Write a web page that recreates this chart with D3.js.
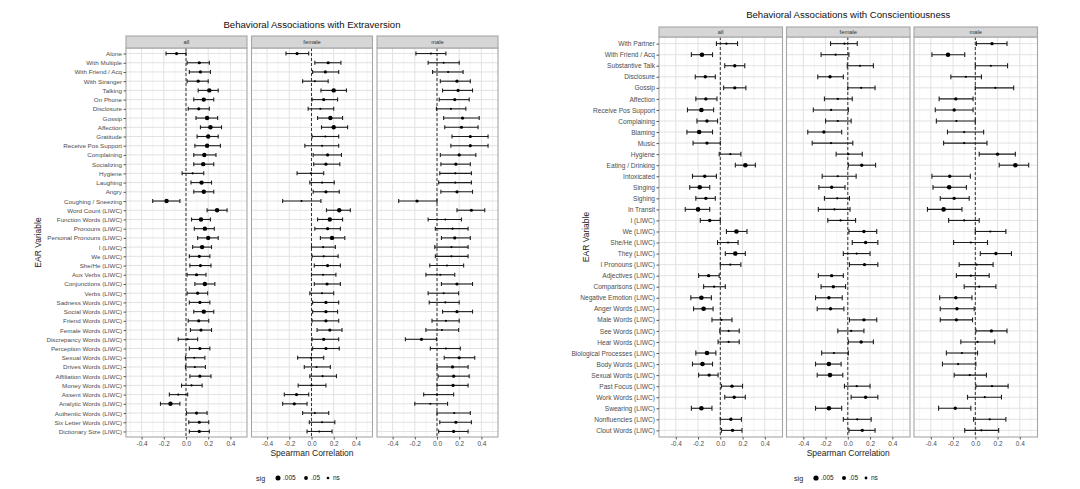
<!DOCTYPE html>
<html>
<head>
<meta charset="utf-8">
<script src="https://cdnjs.cloudflare.com/ajax/libs/d3/7.8.5/d3.min.js"></script>
<style>
body { margin: 0; background: #fff; }
svg { display: block; font-family: "Liberation Sans", Arial, sans-serif; }
</style>
</head>
<body>
<svg id="chart" width="1080" height="489"></svg>
<script>
// facets, ticks and significance levels
const facets = ["all", "female", "male"];
const xTicks = [-0.4, -0.2, 0.0, 0.2, 0.4];
const xMinor = [-0.5, -0.3, -0.1, 0.1, 0.3, 0.5];
const sigLevels = [".005", ".05", "ns"];
const A = ".005", B = ".05", N = "ns";

// Extraversion
const extVars = ["Alone", "With Multiple", "With Friend / Acq", "With Stranger", "Talking", "On Phone",
  "Disclosure", "Gossip", "Affection", "Gratitude", "Receive Pos Support", "Complaining", "Socializing",
  "Hygiene", "Laughing", "Angry", "Coughing / Sneezing", "Word Count (LIWC)", "Function Words (LIWC)",
  "Pronouns (LIWC)", "Personal Pronouns (LIWC)", "I (LIWC)", "We (LIWC)", "She/He (LIWC)", "Aux Verbs (LIWC)",
  "Conjunctions (LIWC)", "Verbs (LIWC)", "Sadness Words (LIWC)", "Social Words (LIWC)", "Friend Words (LIWC)",
  "Female Words (LIWC)", "Discrepancy Words (LIWC)", "Perception Words (LIWC)", "Sexual Words (LIWC)",
  "Drives Words (LIWC)", "Affiliation Words (LIWC)", "Money Words (LIWC)", "Assent Words (LIWC)",
  "Analytic Words (LIWC)", "Authentic Words (LIWC)", "Six Letter Words (LIWC)", "Dictionary Size (LIWC)"];

// [estimate, lower, upper, sig]
const extAll = [
  [-0.085, -0.18, 0.0, B], [0.12, 0.01, 0.21, B], [0.13, 0.03, 0.22, B], [0.11, 0.01, 0.20, B],
  [0.21, 0.11, 0.29, A], [0.16, 0.07, 0.25, A], [0.115, 0.02, 0.21, B], [0.19, 0.09, 0.285, A],
  [0.22, 0.13, 0.32, A], [0.20, 0.10, 0.29, A], [0.19, 0.08, 0.31, A], [0.165, 0.07, 0.27, A],
  [0.155, 0.07, 0.25, A], [0.06, -0.035, 0.16, N], [0.14, 0.045, 0.23, A], [0.16, 0.07, 0.25, A],
  [-0.175, -0.30, -0.055, A], [0.28, 0.19, 0.37, A], [0.135, 0.05, 0.22, A], [0.17, 0.075, 0.255, A],
  [0.20, 0.105, 0.29, A], [0.145, 0.06, 0.23, A], [0.12, 0.03, 0.215, B], [0.13, 0.035, 0.225, B],
  [0.095, 0.01, 0.18, B], [0.17, 0.08, 0.26, A], [0.105, 0.01, 0.195, B], [0.125, 0.03, 0.215, B],
  [0.16, 0.07, 0.25, A], [0.115, 0.02, 0.205, B], [0.135, 0.04, 0.23, B], [0.015, -0.07, 0.105, N],
  [0.125, 0.03, 0.215, B], [0.075, -0.005, 0.17, N], [0.08, -0.005, 0.175, N], [0.125, 0.035, 0.225, B],
  [0.05, -0.04, 0.145, N], [-0.07, -0.15, 0.015, N], [-0.14, -0.23, -0.055, A], [0.095, 0.005, 0.19, B],
  [0.12, 0.025, 0.205, B], [0.12, 0.03, 0.21, B]];
const extFemale = [
  [-0.13, -0.23, -0.025, B], [0.15, 0.03, 0.265, B], [0.125, 0.01, 0.245, B], [0.03, -0.08, 0.15, N],
  [0.20, 0.085, 0.315, A], [0.11, 0.005, 0.235, B], [0.08, -0.03, 0.20, N], [0.17, 0.055, 0.28, A],
  [0.20, 0.09, 0.325, A], [0.125, 0.005, 0.245, N], [0.095, -0.06, 0.245, N], [0.145, 0.015, 0.27, B],
  [0.13, 0.02, 0.255, B], [-0.005, -0.13, 0.11, N], [0.095, -0.015, 0.205, N], [0.13, 0.015, 0.25, B],
  [-0.09, -0.26, 0.085, N], [0.25, 0.135, 0.35, A], [0.165, 0.055, 0.28, A], [0.145, 0.03, 0.26, B],
  [0.185, 0.08, 0.30, A], [0.105, 0.0, 0.215, N], [0.11, 0.005, 0.24, N], [0.145, 0.025, 0.26, B],
  [0.105, 0.0, 0.22, N], [0.14, 0.025, 0.26, B], [0.095, -0.015, 0.20, N], [0.13, 0.01, 0.245, B],
  [0.13, 0.01, 0.235, B], [0.13, 0.005, 0.245, B], [0.165, 0.05, 0.275, B], [0.11, 0.005, 0.245, B],
  [0.13, 0.01, 0.25, B], [-0.005, -0.125, 0.11, N], [0.045, -0.065, 0.17, N], [0.10, -0.015, 0.225, N],
  [0.0, -0.12, 0.13, N], [-0.135, -0.245, -0.025, B], [-0.155, -0.26, -0.04, B], [0.03, -0.08, 0.155, N],
  [0.095, -0.02, 0.21, N], [0.07, -0.04, 0.185, N]];
const extMale = [
  [-0.055, -0.19, 0.08, N], [0.06, -0.08, 0.20, N], [0.10, -0.04, 0.235, N], [0.18, 0.03, 0.30, B],
  [0.19, 0.05, 0.32, B], [0.16, 0.02, 0.29, B], [0.125, -0.005, 0.26, N], [0.23, 0.06, 0.38, B],
  [0.22, 0.07, 0.37, B], [0.30, 0.135, 0.46, B], [0.30, 0.125, 0.46, B], [0.20, 0.03, 0.35, B],
  [0.17, 0.035, 0.30, B], [0.165, 0.025, 0.31, N], [0.165, 0.015, 0.31, N], [0.18, 0.035, 0.32, B],
  [-0.18, -0.345, 0.0, B], [0.31, 0.18, 0.43, B], [0.075, -0.08, 0.22, N], [0.14, -0.015, 0.28, N],
  [0.16, 0.04, 0.30, B], [0.13, -0.02, 0.28, N], [0.13, -0.015, 0.28, N], [0.09, -0.065, 0.24, N],
  [0.03, -0.10, 0.16, N], [0.18, 0.04, 0.32, B], [0.06, -0.08, 0.195, N], [0.075, -0.07, 0.20, N],
  [0.18, 0.05, 0.32, B], [0.08, -0.045, 0.20, N], [0.045, -0.10, 0.195, N], [-0.14, -0.285, -0.005, B],
  [0.08, -0.06, 0.21, N], [0.20, 0.065, 0.34, B], [0.14, 0.0, 0.28, B], [0.15, 0.01, 0.29, B],
  [0.145, 0.0, 0.28, B], [0.0, -0.12, 0.15, N], [-0.06, -0.20, 0.095, N], [0.155, 0.0, 0.30, N],
  [0.17, 0.025, 0.31, B], [0.15, 0.015, 0.28, B]];

// Conscientiousness
const conVars = ["With Partner", "With Friend / Acq", "Substantive Talk", "Disclosure", "Gossip", "Affection",
  "Receive Pos Support", "Complaining", "Blaming", "Music", "Hygiene", "Eating / Drinking", "Intoxicated",
  "Singing", "Sighing", "In Transit", "I (LIWC)", "We (LIWC)", "She/He (LIWC)", "They (LIWC)",
  "I Pronouns (LIWC)", "Adjectives (LIWC)", "Comparisons (LIWC)", "Negative Emotion (LIWC)",
  "Anger Words (LIWC)", "Male Words (LIWC)", "See Words (LIWC)", "Hear Words (LIWC)",
  "Biological Processes (LIWC)", "Body Words (LIWC)", "Sexual Words (LIWC)", "Past Focus (LIWC)",
  "Work Words (LIWC)", "Swearing (LIWC)", "Nonfluencies (LIWC)", "Clout Words (LIWC)"];

const conAll = [
  [0.055, -0.035, 0.155, N], [-0.165, -0.26, -0.07, A], [0.13, 0.04, 0.22, B], [-0.135, -0.225, -0.045, B],
  [0.13, 0.03, 0.23, B], [-0.13, -0.22, -0.03, B], [-0.17, -0.295, -0.06, A], [-0.12, -0.21, -0.025, B],
  [-0.19, -0.30, -0.07, A], [-0.12, -0.245, 0.0, B], [0.09, -0.01, 0.185, N], [0.225, 0.135, 0.315, A],
  [-0.14, -0.25, -0.035, B], [-0.185, -0.275, -0.095, A], [-0.13, -0.22, -0.045, B], [-0.20, -0.315, -0.095, A],
  [-0.095, -0.18, 0.0, B], [0.145, 0.055, 0.24, A], [0.07, -0.025, 0.16, N], [0.135, 0.045, 0.225, A],
  [0.09, 0.0, 0.185, N], [-0.105, -0.195, -0.01, B], [-0.055, -0.15, 0.045, N], [-0.17, -0.265, -0.08, A],
  [-0.15, -0.24, -0.065, A], [0.01, -0.075, 0.105, N], [0.075, -0.005, 0.17, N], [0.075, -0.02, 0.17, N],
  [-0.12, -0.22, -0.04, A], [-0.16, -0.25, -0.07, A], [-0.10, -0.195, -0.02, B], [0.105, 0.01, 0.20, B],
  [0.125, 0.04, 0.225, B], [-0.17, -0.26, -0.075, A], [0.095, 0.0, 0.19, B], [0.11, 0.01, 0.195, B]];
const conFemale = [
  [-0.03, -0.155, 0.085, N], [-0.11, -0.24, 0.01, N], [0.11, -0.005, 0.23, N], [-0.16, -0.27, -0.04, B],
  [0.12, 0.0, 0.245, N], [-0.09, -0.21, 0.04, N], [-0.15, -0.31, 0.005, N], [-0.09, -0.20, 0.03, N],
  [-0.215, -0.36, -0.055, B], [-0.15, -0.32, 0.045, N], [0.005, -0.105, 0.13, N], [0.125, 0.005, 0.25, B],
  [-0.09, -0.23, 0.075, N], [-0.145, -0.26, -0.025, B], [-0.095, -0.21, 0.015, N], [-0.12, -0.265, 0.02, N],
  [-0.065, -0.18, 0.07, N], [0.145, 0.01, 0.26, B], [0.16, 0.04, 0.27, B], [0.08, -0.04, 0.20, N],
  [0.15, 0.015, 0.27, B], [-0.145, -0.265, -0.04, B], [-0.13, -0.24, -0.02, B], [-0.17, -0.29, -0.05, B],
  [-0.155, -0.275, -0.035, B], [0.145, 0.015, 0.26, B], [0.03, -0.09, 0.145, N], [0.12, 0.005, 0.23, B],
  [-0.125, -0.235, 0.005, N], [-0.17, -0.29, -0.06, A], [-0.16, -0.275, -0.045, A], [0.08, -0.03, 0.20, N],
  [0.16, 0.03, 0.27, B], [-0.17, -0.29, -0.055, A], [0.085, -0.04, 0.21, N], [0.13, 0.01, 0.245, B]];
const conMale = [
  [0.15, 0.01, 0.285, B], [-0.245, -0.39, -0.095, A], [0.14, 0.0, 0.29, N], [-0.085, -0.22, 0.055, N],
  [0.18, 0.0, 0.345, N], [-0.175, -0.325, -0.02, B], [-0.19, -0.36, -0.02, B], [-0.17, -0.35, 0.0, N],
  [-0.10, -0.25, 0.075, N], [-0.10, -0.285, 0.105, N], [0.20, 0.035, 0.36, B], [0.36, 0.215, 0.48, A],
  [-0.23, -0.39, -0.045, B], [-0.235, -0.38, -0.08, A], [-0.19, -0.315, -0.055, B], [-0.285, -0.43, -0.12, A],
  [-0.10, -0.24, 0.035, N], [0.135, 0.0, 0.275, N], [-0.04, -0.195, 0.11, N], [0.185, 0.045, 0.325, B],
  [0.01, -0.145, 0.16, N], [-0.04, -0.17, 0.125, N], [0.035, -0.10, 0.185, N], [-0.175, -0.32, -0.03, B],
  [-0.165, -0.315, -0.01, B], [-0.17, -0.315, -0.025, B], [0.145, 0.005, 0.285, B], [0.02, -0.13, 0.175, N],
  [-0.12, -0.26, 0.02, N], [-0.155, -0.295, 0.005, N], [-0.05, -0.19, 0.10, N], [0.15, 0.005, 0.295, N],
  [0.085, -0.07, 0.235, N], [-0.18, -0.33, -0.04, B], [0.13, -0.015, 0.275, N], [0.055, -0.095, 0.21, N]];

const svg = d3.select("#chart");

function drawChart(cfg) {
  const g = svg.append("g");
  const y = d3.scalePoint().domain(cfg.vars).range([cfg.top, cfg.bottom]).padding(0.6);
  const rad = d3.scaleOrdinal().domain(sigLevels).range(cfg.radii);

  cfg.data.forEach(function(rows, i) {
    const px = cfg.left + i * (cfg.width + cfg.gap);
    const x = d3.scaleLinear()
      .domain([-cfg.zeroOff / cfg.unit, (cfg.width - cfg.zeroOff) / cfg.unit])
      .range([px, px + cfg.width]);
    const p = g.append("g");

    p.append("rect").attr("x", px).attr("y", cfg.top).attr("width", cfg.width)
      .attr("height", cfg.bottom - cfg.top).attr("fill", "#fff");

    // grid
    p.selectAll(".minor").data(xMinor.filter(d => x(d) > px && x(d) < px + cfg.width)).enter()
      .append("line").attr("x1", d => x(d)).attr("x2", d => x(d))
      .attr("y1", cfg.top).attr("y2", cfg.bottom).attr("stroke", "#f1f1f1").attr("stroke-width", 0.7);
    p.selectAll(".major").data(xTicks).enter()
      .append("line").attr("x1", d => x(d)).attr("x2", d => x(d))
      .attr("y1", cfg.top).attr("y2", cfg.bottom).attr("stroke", "#e2e2e2").attr("stroke-width", 1);
    p.selectAll(".hgrid").data(cfg.vars).enter()
      .append("line").attr("x1", px).attr("x2", px + cfg.width)
      .attr("y1", d => y(d)).attr("y2", d => y(d)).attr("stroke", "#e2e2e2").attr("stroke-width", 1);

    // zero line
    p.append("line").attr("x1", x(0)).attr("x2", x(0)).attr("y1", cfg.top).attr("y2", cfg.bottom)
      .attr("stroke", "#333").attr("stroke-width", 1).attr("stroke-dasharray", "3,2");

    // error bars
    const bars = p.selectAll(".bar").data(rows).enter().append("g")
      .attr("stroke", "#1e1e1e").attr("stroke-width", 1.1);
    bars.append("line").attr("x1", d => x(d[1])).attr("x2", d => x(d[2]))
      .attr("y1", (d, j) => y(cfg.vars[j])).attr("y2", (d, j) => y(cfg.vars[j]));
    bars.append("line").attr("x1", d => x(d[1])).attr("x2", d => x(d[1]))
      .attr("y1", (d, j) => y(cfg.vars[j]) - cfg.cap).attr("y2", (d, j) => y(cfg.vars[j]) + cfg.cap);
    bars.append("line").attr("x1", d => x(d[2])).attr("x2", d => x(d[2]))
      .attr("y1", (d, j) => y(cfg.vars[j]) - cfg.cap).attr("y2", (d, j) => y(cfg.vars[j]) + cfg.cap);
    bars.append("circle").attr("cx", d => x(d[0])).attr("cy", (d, j) => y(cfg.vars[j]))
      .attr("r", d => rad(d[3])).attr("fill", "#000").attr("stroke", "none");

    // border
    p.append("rect").attr("x", px).attr("y", cfg.top).attr("width", cfg.width)
      .attr("height", cfg.bottom - cfg.top).attr("fill", "none").attr("stroke", "#a6a6a6").attr("stroke-width", 1.1);

    // strip
    p.append("rect").attr("x", px).attr("y", cfg.top - cfg.stripH).attr("width", cfg.width)
      .attr("height", cfg.stripH).attr("fill", "#d6d6d6").attr("stroke", "#a6a6a6").attr("stroke-width", 1.1);
    p.append("text").attr("x", px + cfg.width / 2).attr("y", cfg.top - cfg.stripH / 2)
      .attr("dy", "0.35em").attr("text-anchor", "middle").attr("font-size", 5.8)
      .attr("fill", "#333").text(facets[i]);

    // x axis
    const ax = p.append("g").attr("transform", "translate(0," + cfg.bottom + ")")
      .call(d3.axisBottom(x).tickValues(xTicks).tickSize(2.5).tickPadding(1.8).tickFormat(d => d.toFixed(1)));
    ax.select(".domain").remove();
    ax.selectAll("line").attr("stroke", "#555");
    ax.selectAll("text").attr("font-size", 6.5).attr("fill", "#4d4d4d").attr("font-family", null);

    if (i === 0) {
      const ay = p.append("g").attr("transform", "translate(" + px + ",0)")
        .call(d3.axisLeft(y).tickSize(2.5).tickPadding(1.5));
      ay.select(".domain").remove();
      ay.selectAll("line").attr("stroke", "#555");
      ay.selectAll("text").attr("font-size", cfg.labelSize).attr("fill", "#4d4d4d").attr("font-family", null);
    }
  });

  const mid = cfg.left + (3 * cfg.width + 2 * cfg.gap) / 2;
  g.append("text").attr("x", mid).attr("y", cfg.titleY).attr("text-anchor", "middle")
    .attr("font-size", 9.6).attr("fill", "#111").text(cfg.title);
  g.append("text").attr("x", mid).attr("y", cfg.bottom + 19).attr("text-anchor", "middle")
    .attr("font-size", 8.5).attr("fill", "#222").text("Spearman Correlation");
  g.append("text").attr("transform", "translate(" + cfg.yTitleX + "," + ((cfg.top + cfg.bottom) / 2) + ") rotate(-90)")
    .attr("text-anchor", "middle").attr("font-size", 8.5).attr("fill", "#222").text("EAR Variable");

  // legend
  const lg = g.append("g").attr("transform", "translate(" + cfg.legendX + ",478)");
  lg.append("text").attr("x", 0).attr("y", 0).attr("dy", "0.35em").attr("font-size", 7.2)
    .attr("fill", "#222").text("sig");
  const items = lg.selectAll(".item").data(sigLevels).enter().append("g")
    .attr("transform", (d, k) => "translate(" + [22, 50, 72][k] + ",0)");
  items.append("circle").attr("r", d => rad(d) + 0.3).attr("fill", "#000");
  items.append("text").attr("x", 5).attr("dy", "0.35em").attr("font-size", 6.5)
    .attr("fill", "#222").text(d => d);
}

drawChart({
  title: "Behavioral Associations with Extraversion", vars: extVars, data: [extAll, extFemale, extMale],
  left: 126, width: 121, gap: 4.5, top: 48, bottom: 437, stripH: 12, zeroOff: 60, unit: 111,
  labelSize: 6.25, radii: [2.2, 1.6, 1.05], cap: 2, titleY: 28, yTitleX: 41, legendX: 256
});
drawChart({
  title: "Behavioral Associations with Conscientiousness", vars: conVars, data: [conAll, conFemale, conMale],
  left: 659, width: 123.5, gap: 4, top: 37, bottom: 437, stripH: 10, zeroOff: 61.3, unit: 111.25,
  labelSize: 6.6, radii: [2.3, 1.7, 1.1], cap: 2.4, titleY: 18, yTitleX: 589, legendX: 794
});
</script>
</body>
</html>
